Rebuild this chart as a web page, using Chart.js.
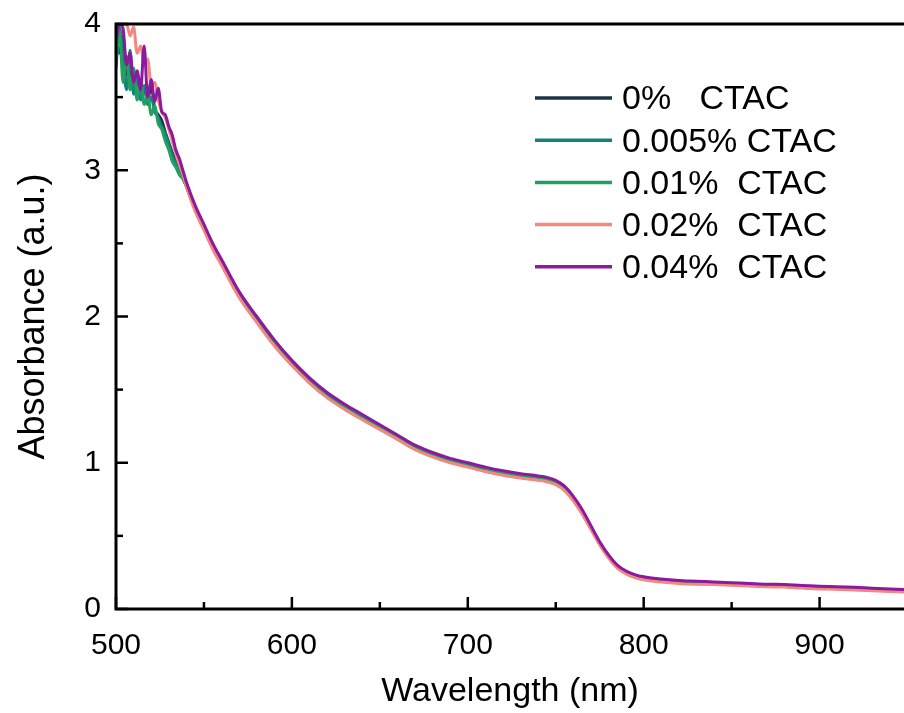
<!DOCTYPE html>
<html><head><meta charset="utf-8">
<script src="https://cdn.jsdelivr.net/npm/chart.js@4.4.1/dist/chart.umd.min.js"></script>
<style>html,body{margin:0;padding:0;background:#fff;overflow:hidden}</style>
</head><body>
<canvas id="c" width="904" height="713"></canvas>
<script>
// ---- data ----
const wavelengths = [500,502,504,506,508,510,512,514,516,518,520,522,524,526,528,530,532,534,536,538,540,
  545,550,555,560,570,580,590,600,610,620,630,640,650,660,670,680,690,700,710,720,730,740,
  745,750,755,760,765,770,775,780,785,790,795,800,
  810,820,830,840,850,860,870,880,890,900,910,920,930,940,948];

const seriesLabels = ['0%   CTAC','0.005% CTAC','0.01%  CTAC','0.02%  CTAC','0.04%  CTAC'];
const seriesColors = ['#1a3446','#16807e','#21a060','#f4877f','#8c1a9e'];

const abs0pct = [3.90,3.80,3.92,3.65,3.70,3.58,3.64,3.52,3.56,3.48,3.58,3.42,3.38,3.34,3.26,3.19,3.12,3.06,3.00,2.95,2.89,
  2.73,2.60,2.47,2.36,2.14,1.97,1.81,1.67,1.55,1.45,1.37,1.30,1.232,1.163,1.094,1.044,1.004,0.974,0.944,0.919,0.899,0.884,
  0.874,0.855,0.815,0.745,0.655,0.550,0.443,0.355,0.285,0.245,0.220,0.205,
  0.190,0.180,0.175,0.172,0.167,0.162,0.156,0.154,0.147,0.141,0.139,0.134,0.129,0.124,0.120];

const abs0005pct = [3.70,3.98,3.75,3.55,3.82,3.52,3.66,3.48,3.58,3.45,3.50,3.40,3.36,3.30,3.25,3.18,3.10,3.05,3.00,2.96,2.90,
  2.748,2.618,2.488,2.378,2.158,1.988,1.828,1.688,1.568,1.468,1.388,1.318,1.248,1.178,1.108,1.058,1.018,0.988,0.958,0.933,0.913,0.898,
  0.888,0.868,0.828,0.758,0.668,0.560,0.452,0.364,0.294,0.254,0.229,0.213,
  0.198,0.188,0.183,0.178,0.173,0.168,0.163,0.160,0.153,0.148,0.145,0.141,0.135,0.130,0.126];

const abs001pct = [3.75,3.95,3.60,3.78,3.55,3.70,3.48,3.62,3.45,3.52,3.38,3.44,3.32,3.28,3.20,3.14,3.06,3.02,2.97,2.94,2.89,
  2.74,2.61,2.48,2.37,2.15,1.98,1.82,1.68,1.56,1.46,1.38,1.31,1.24,1.172,1.102,1.052,1.012,0.982,0.952,0.927,0.907,0.892,
  0.882,0.862,0.822,0.752,0.662,0.555,0.448,0.360,0.290,0.250,0.225,0.210,
  0.195,0.185,0.180,0.176,0.171,0.166,0.161,0.158,0.151,0.146,0.143,0.139,0.133,0.128,0.124];

const abs002pct = [4.00,4.00,4.00,4.00,3.92,3.98,3.80,3.85,3.72,3.76,3.58,3.60,3.48,3.40,3.36,3.28,3.20,3.11,3.04,2.97,2.89,
  2.72,2.59,2.46,2.35,2.13,1.96,1.80,1.665,1.545,1.445,1.365,1.295,1.228,1.160,1.090,1.040,1.000,0.970,0.940,0.915,0.895,0.880,
  0.870,0.850,0.810,0.740,0.650,0.545,0.440,0.350,0.280,0.240,0.215,0.200,
  0.185,0.175,0.170,0.168,0.163,0.158,0.152,0.150,0.143,0.137,0.135,0.130,0.125,0.120,0.117];

const abs004pct = [3.88,4.00,3.97,3.72,3.80,3.60,3.68,3.55,3.85,3.50,3.62,3.47,3.56,3.40,3.38,3.30,3.24,3.14,3.08,3.00,2.92,
  2.76,2.63,2.50,2.39,2.17,2.00,1.84,1.70,1.58,1.48,1.40,1.33,1.26,1.19,1.12,1.07,1.03,1.00,0.97,0.945,0.925,0.910,
  0.900,0.880,0.840,0.770,0.680,0.570,0.460,0.370,0.300,0.260,0.235,0.220,
  0.205,0.195,0.190,0.185,0.180,0.175,0.170,0.168,0.160,0.155,0.152,0.148,0.142,0.137,0.133];

const seriesValues = [abs0pct, abs0005pct, abs001pct, abs002pct, abs004pct];

const xMajorTicks = [500,600,700,800,900];
const xMinorTicks = [550,650,750,850];
const yMajorTicks = [0,1,2,3,4];
const yMinorTicks = [0.5,1.5,2.5,3.5];

// ---- chart ----
const FONT = "'Liberation Sans', Arial, sans-serif";

const datasets = seriesValues.map((vals, i) => ({
  label: seriesLabels[i],
  data: wavelengths.map((w, k) => ({x: w, y: vals[k]})),
  borderColor: seriesColors[i],
  backgroundColor: seriesColors[i],
  borderWidth: 3,
  pointRadius: 0,
  fill: false,
  cubicInterpolationMode: 'monotone',
  order: seriesValues.length - i,
  clip: 0
}));

const framePlugin = {
  id: 'frame',
  afterDraw(chart) {
    const {ctx, chartArea: a, scales} = chart;
    const xs = scales.x, ys = scales.y;
    ctx.save();
    ctx.strokeStyle = '#000';
    ctx.lineCap = 'butt';
    ctx.lineWidth = 2.5;
    const seg = (x1, y1, x2, y2) => { ctx.beginPath(); ctx.moveTo(x1, y1); ctx.lineTo(x2, y2); ctx.stroke(); };
    xMajorTicks.forEach(v => { const p = xs.getPixelForValue(v); seg(p, a.bottom, p, a.bottom - 12); });
    xMinorTicks.forEach(v => { const p = xs.getPixelForValue(v); seg(p, a.bottom, p, a.bottom - 7); });
    yMajorTicks.forEach(v => { const p = ys.getPixelForValue(v); seg(a.left, p, a.left + 12, p); });
    yMinorTicks.forEach(v => { const p = ys.getPixelForValue(v); seg(a.left, p, a.left + 7, p); });
    ctx.lineWidth = 3;
    ctx.beginPath();
    ctx.moveTo(a.right + 2, a.top);
    ctx.lineTo(a.left, a.top);
    ctx.lineTo(a.left, a.bottom);
    ctx.lineTo(a.right + 2, a.bottom);
    ctx.stroke();
    // legend
    ctx.font = '34px ' + FONT;
    ctx.textBaseline = 'middle';
    ctx.textAlign = 'left';
    chart.data.datasets.forEach((ds, i) => {
      const y = 98 + i * 42.2;
      ctx.strokeStyle = ds.borderColor;
      ctx.lineWidth = 3.5;
      seg(535, y, 612, y);
      ctx.fillStyle = '#000';
      ctx.fillText(ds.label, 622, y + 2);
    });
    ctx.restore();
  }
};

new Chart(document.getElementById('c'), {
  type: 'line',
  data: {datasets},
  options: {
    responsive: false,
    devicePixelRatio: 1,
    animation: false,
    layout: {padding: {top: 24, right: 0, bottom: 0, left: 0}},
    plugins: {legend: {display: false}, tooltip: {enabled: false}},
    scales: {
      x: {
        type: 'linear', min: 500, max: 948,
        grid: {display: false, drawTicks: false},
        border: {display: false},
        ticks: {padding: 19, color: '#000', font: {family: FONT, size: 30}, maxRotation: 0, autoSkip: false},
        afterBuildTicks: s => { s.ticks = xMajorTicks.map(v => ({value: v})); },
        afterFit: s => { s.height = 104; s.paddingLeft = 0; s.paddingRight = 0; },
        title: {display: true, text: 'Wavelength (nm)', color: '#000', font: {family: FONT, size: 34}, padding: {top: 0, bottom: 1}}
      },
      y: {
        type: 'linear', min: 0, max: 4,
        grid: {display: false, drawTicks: false},
        border: {display: false},
        ticks: {padding: 15, color: '#000', font: {family: FONT, size: 30}},
        afterBuildTicks: s => { s.ticks = yMajorTicks.map(v => ({value: v})); },
        afterFit: s => { s.width = 116; s.paddingTop = 0; s.paddingBottom = 0; },
        title: {display: true, text: 'Absorbance (a.u.)', color: '#000', font: {family: FONT, size: 36}, padding: {top: 12, bottom: 0}}
      }
    }
  },
  plugins: [framePlugin]
});
</script>
</body></html>
